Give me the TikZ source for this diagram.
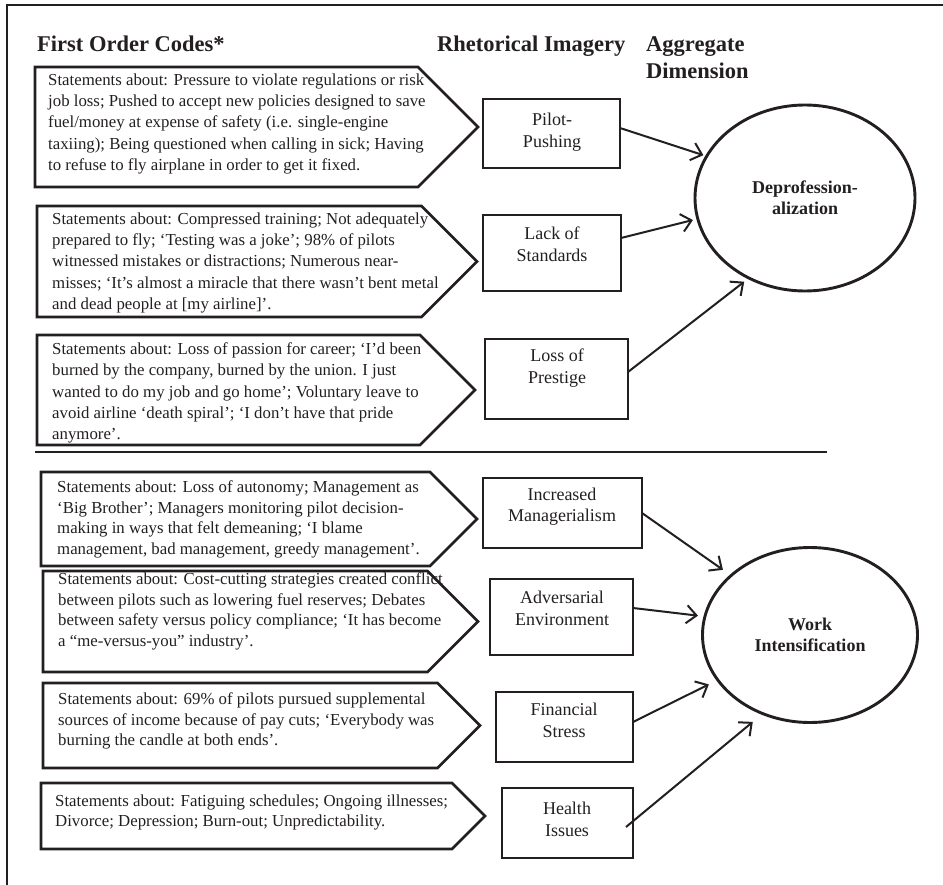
\documentclass[tikz,border=0pt]{standalone}
\usepackage{fontspec}
\setmainfont{Liberation Serif}
\usetikzlibrary{arrows.meta,shapes.geometric}
\definecolor{ink}{HTML}{231F20}
\tikzset{
  body/.style={draw=none, inner sep=0pt, outer sep=0pt},
  pent/.style={draw=ink, line width=2.6pt, line join=miter},
  ptext/.style={inner sep=0pt, anchor=north west, align=left, text=ink,
    font=\fontsize{16.8}{21.3}\selectfont},
  ptextb/.style={ptext, font=\fontsize{16.8}{20.6}\selectfont},
  rbox/.style={draw=ink, line width=2.9pt, inner sep=0pt, outer sep=0pt},
  rtext/.style={inner sep=0pt, align=center, text=ink,
    font=\fontsize{18}{21.5}\selectfont},
  ell/.style={ellipse, draw=ink, line width=2.9pt, inner sep=0pt, outer sep=0pt,
    align=center, text=ink, font=\fontsize{18}{21}\selectfont\bfseries},
  head/.style={inner sep=0pt, anchor=north west, align=left, text=ink,
    font=\fontsize{22.5}{27}\selectfont\bfseries},
  conn/.style={draw=ink, line width=2pt, -{Straight Barb[length=10pt,width=18pt]}},
}
\begin{document}
\begin{tikzpicture}[x=1pt,y=-1pt]
\useasboundingbox (0,0) rectangle (943,885);
% frame
\draw[ink, line width=1.2pt] (7,885) -- (7,5) -- (943,5);
% headings
\node[head] (h1) at (37,36) {First Order Codes*};
\node[head] (h2) at (437,36) {Rhetorical Imagery};
\node[head] (h3) at (646,36) {Aggregate\\Dimension};

% pentagon bodies
\node[body, minimum width=383pt, minimum height=120pt] (p1) at (226.5,127) {};
\node[body, minimum width=384.5pt, minimum height=111pt] (p2) at (229.25,261.5) {};
\node[body, minimum width=383pt, minimum height=110pt] (p3) at (228.5,390) {};
\node[body, minimum width=389pt, minimum height=94pt] (p4) at (235.5,519) {};
\node[body, minimum width=384.5pt, minimum height=101pt] (p5) at (235.25,621.5) {};
\node[body, minimum width=394.5pt, minimum height=85pt] (p6) at (240.25,725.5) {};
\node[body, minimum width=411pt, minimum height=66pt] (p7) at (246.5,816) {};

\draw[pent] (p1.north west) -- (p1.north east) -- ([xshift=60pt]p1.east) -- (p1.south east) -- (p1.south west) -- cycle;
\draw[pent] (p2.north west) -- (p2.north east) -- ([xshift=55.5pt]p2.east) -- (p2.south east) -- (p2.south west) -- cycle;
\draw[pent] (p3.north west) -- (p3.north east) -- ([xshift=55pt]p3.east) -- (p3.south east) -- (p3.south west) -- cycle;
\draw[pent] (p4.north west) -- (p4.north east) -- ([xshift=47pt]p4.east) -- (p4.south east) -- (p4.south west) -- cycle;
\draw[pent] (p5.north west) -- (p5.north east) -- ([xshift=50.5pt]p5.east) -- (p5.south east) -- (p5.south west) -- cycle;
\draw[pent] (p6.north west) -- (p6.north east) -- ([xshift=42.5pt]p6.east) -- (p6.south east) -- (p6.south west) -- cycle;
\draw[pent] (p7.north west) -- (p7.north east) -- ([xshift=33pt]p7.east) -- (p7.south east) -- (p7.south west) -- cycle;

% pentagon texts
\node[ptext] (t1) at (48,73.5) {Statements about: Pressure to violate regulations or risk\\
job loss; Pushed to accept new policies designed to save\\
fuel/money at expense of safety (i.e. single-engine\\
taxiing); Being questioned when calling in sick; Having\\
to refuse to fly airplane in order to get it fixed.};
\node[ptext] (t2) at (52,212.5) {Statements about: Compressed training; Not adequately\\
prepared to fly; ‘Testing was a joke’; 98\% of pilots\\
witnessed mistakes or distractions; Numerous near-\\
misses; ‘It’s almost a miracle that there wasn’t bent metal\\
and dead people at [my airline]’.};
\node[ptext] (t3) at (52,342.5) {Statements about: Loss of passion for career; ‘I’d been\\
burned by the company, burned by the union. I just\\
wanted to do my job and go home’; Voluntary leave to\\
avoid airline ‘death spiral’; ‘I don’t have that pride\\
anymore’.};
\node[ptextb] (t4) at (57,480.5) {Statements about: Loss of autonomy; Management as\\
‘Big Brother’; Managers monitoring pilot decision-\\
making in ways that felt demeaning; ‘I blame\\
management, bad management, greedy management’.};
\node[ptextb] (t5) at (58,572.5) {Statements about: Cost-cutting strategies created conflict\\
between pilots such as lowering fuel reserves; Debates\\
between safety versus policy compliance; ‘It has become\\
a “me-versus-you” industry’.};
\node[ptextb] (t6) at (58,692.5) {Statements about: 69\% of pilots pursued supplemental\\
sources of income because of pay cuts; ‘Everybody was\\
burning the candle at both ends’.};
\node[ptextb] (t7) at (55,794.5) {Statements about: Fatiguing schedules; Ongoing illnesses;\\
Divorce; Depression; Burn-out; Unpredictability.};

% separator
\draw[ink, line width=1.1pt] (35,452) -- (827,452);

% rhetorical boxes
\node[rbox, minimum width=137pt, minimum height=69pt] (pp) at (551.5,133.5) {};
\node[rbox, minimum width=138pt, minimum height=76pt] (ls) at (552,253) {};
\node[rbox, minimum width=143pt, minimum height=80pt] (lp) at (556.5,379) {};
\node[rbox, minimum width=159pt, minimum height=70pt] (im) at (562.5,513) {};
\node[rbox, minimum width=143pt, minimum height=76pt] (ae) at (561.5,617) {};
\node[rbox, minimum width=137pt, minimum height=70pt] (fs) at (564.5,727) {};
\node[rbox, minimum width=131pt, minimum height=70pt] (hi) at (567.5,823) {};

\node[rtext] (ppt) at (552,132) {Pilot-\\Pushing};
\node[rtext] (lst) at (552,244.5) {Lack of\\Standards};
\node[rtext] (lpt) at (557,368) {Loss of\\Prestige};
\node[rtext] (imt) at (562,506.5) {Increased\\Managerialism};
\node[rtext] (aet) at (562,608.5) {Adversarial\\Environment};
\node[rtext] (fst) at (564,720.5) {Financial\\Stress};
\node[rtext] (hit) at (567,819.5) {Health\\Issues};

% aggregate ellipses
\node[ell, minimum width=220pt, minimum height=186pt] (dep) at (805,198) {Deprofession-\\alization};
\node[ell, minimum width=215pt, minimum height=175pt] (wi) at (810,635) {Work\\Intensification};

% connectors
\draw[conn, shorten >=3.5pt] ([yshift=5.5pt]pp.east) -- (dep.157);
\draw[conn, shorten >=5pt] ([yshift=15pt]ls.east) -- (dep.191);
\draw[conn, shorten >=6pt] ([yshift=7pt]lp.east) -- (dep.235);
\draw[conn, shorten >=10pt] (im.east) -- (wi.143);
\draw[conn, shorten >=7pt] ([yshift=9pt]ae.east) -- (wi.170);
\draw[conn, shorten >=10pt] ([yshift=5pt]fs.east) -- (wi.206);
\draw[conn, shorten >=13pt] ([xshift=-7pt,yshift=-4pt]hi.east) -- (wi.239);
\end{tikzpicture}
\end{document}
